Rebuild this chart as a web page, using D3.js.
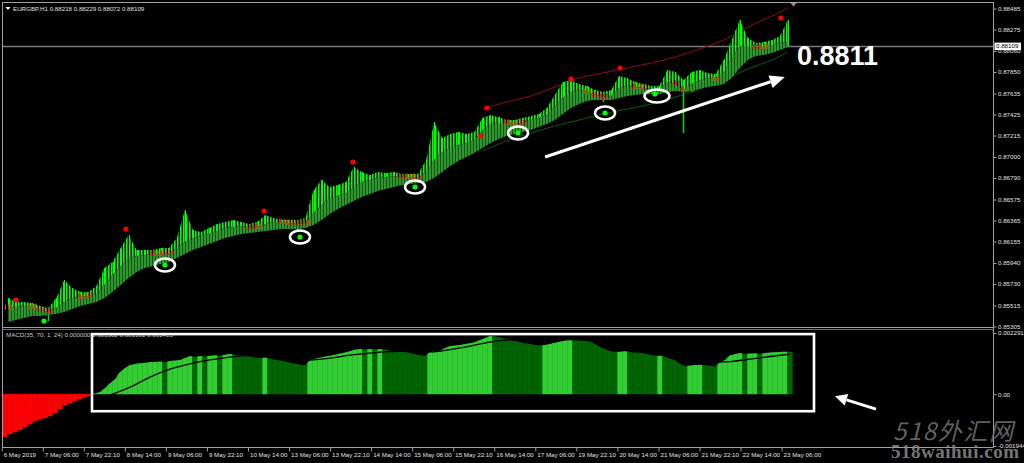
<!DOCTYPE html>
<html><head><meta charset="utf-8">
<script src="https://cdn.jsdelivr.net/npm/d3@7/dist/d3.min.js"></script>
<style>html,body{margin:0;padding:0;background:#000;overflow:hidden}svg{display:block}</style>
</head><body>
<svg id="chart" width="1024" height="463"></svg>
<script>
// ---------------- data ----------------
const symbolTitle = "EURGBP,H1 0.88218 0.88229 0.88072 0.88109";
const macdTitle = "MACD(35, 70, 1, 24) 0.000000 0.001302 0.001302 0.001415";
const priceTicks = [0.88485,0.88275,0.88060,0.87850,0.87635,0.87425,0.87215,0.87000,0.86790,0.86575,0.86365,0.86155,0.85940,0.85730,0.85515,0.85305];
const lastPrice = 0.88109;
const bigLabel = "0.8811";
const timeLabels = ["6 May 2019","7 May 06:00","7 May 22:10","8 May 14:00","9 May 06:00","9 May 22:10","10 May 14:00","13 May 06:00","13 May 22:10","14 May 14:00","15 May 06:00","15 May 22:10","16 May 14:00","17 May 06:00","19 May 22:10","20 May 14:00","21 May 06:00","21 May 22:10","22 May 14:00","23 May 06:00"];

const barHigh = [0.8559,0.8555,0.8555,0.8554,0.8551,0.8549,0.8559,0.8577,0.8569,0.8565,
0.8565,0.8571,0.8589,0.8595,0.8609,0.8622,0.8607,0.8607,0.8607,0.8609,
0.8609,0.8619,0.8647,0.8627,0.8625,0.8629,0.8633,0.8635,0.8637,0.8635,
0.8633,0.8635,0.8642,0.8639,0.8637,0.8637,0.8637,0.8639,0.8667,0.8677,
0.8670,0.8672,0.8675,0.8690,0.8685,0.8682,0.8685,0.8684,0.8685,0.8683,
0.8683,0.8683,0.8697,0.8735,0.8719,0.8723,0.8725,0.8723,0.8725,0.8739,
0.8742,0.8740,0.8737,0.8737,0.8739,0.8741,0.8743,0.8749,0.8762,0.8775,
0.8777,0.8773,0.8771,0.8767,0.8765,0.8767,0.8781,0.8779,0.8775,0.8773,
0.8771,0.8771,0.8787,0.8785,0.8777,0.8785,0.8787,0.8784,0.8783,0.8797,
0.8817,0.8837,0.8819,0.8814,0.8815,0.8817,0.8821,0.8837];
const barLow = [0.8539,0.8545,0.8547,0.8546,0.8541,0.8536,0.8545,0.8551,0.8555,0.8557,
0.8558,0.8560,0.8567,0.8575,0.8587,0.8595,0.8597,0.8599,0.8599,0.8599,
0.8600,0.8605,0.8609,0.8615,0.8617,0.8619,0.8622,0.8625,0.8626,0.8627,
0.8625,0.8626,0.8629,0.8631,0.8631,0.8630,0.8627,0.8630,0.8639,0.8647,
0.8655,0.8657,0.8660,0.8665,0.8671,0.8673,0.8675,0.8676,0.8677,0.8676,
0.8676,0.8675,0.8679,0.8691,0.8701,0.8705,0.8708,0.8710,0.8713,0.8723,
0.8729,0.8730,0.8730,0.8729,0.8730,0.8733,0.8735,0.8738,0.8747,0.8755,
0.8761,0.8763,0.8761,0.8758,0.8755,0.8757,0.8765,0.8767,0.8766,0.8765,
0.8764,0.8763,0.8771,0.8767,0.8724,0.8765,0.8773,0.8775,0.8774,0.8781,
0.8795,0.8807,0.8807,0.8805,0.8806,0.8808,0.8810,0.8811];
const fastMA = [0.8549,0.8550,0.8551,0.8550,0.8547,0.8545,0.8549,0.8555,0.8559,0.8560,
0.8561,0.8563,0.8572,0.8582,0.8591,0.8599,0.8601,0.8602,0.8603,0.8603,
0.8604,0.8609,0.8615,0.8619,0.8621,0.8623,0.8626,0.8629,0.8630,0.8631,
0.8629,0.8630,0.8633,0.8635,0.8635,0.8634,0.8633,0.8634,0.8644,0.8652,
0.8659,0.8661,0.8664,0.8669,0.8675,0.8677,0.8679,0.8680,0.8681,0.8680,
0.8680,0.8679,0.8685,0.8697,0.8705,0.8709,0.8712,0.8714,0.8717,0.8727,
0.8733,0.8734,0.8734,0.8733,0.8734,0.8737,0.8739,0.8742,0.8751,0.8759,
0.8765,0.8767,0.8765,0.8762,0.8760,0.8761,0.8769,0.8771,0.8770,0.8769,
0.8768,0.8767,0.8775,0.8773,0.8767,0.8773,0.8777,0.8779,0.8778,0.8785,
0.8799,0.8811,0.8811,0.8809,0.8810,0.8812,0.8814,0.8815];
const slowMA = [0.8535,0.8537,0.8539,0.8541,0.8541,0.8542,0.8543,0.8545,0.8548,0.8551,
0.8553,0.8555,0.8559,0.8565,0.8572,0.8579,0.8585,0.8589,0.8591,0.8593,
0.8595,0.8599,0.8603,0.8607,0.8610,0.8613,0.8616,0.8619,0.8621,0.8623,
0.8624,0.8625,0.8626,0.8627,0.8628,0.8628,0.8628,0.8629,0.8632,0.8637,
0.8643,0.8648,0.8652,0.8656,0.8660,0.8663,0.8666,0.8668,0.8670,0.8672,
0.8673,0.8674,0.8675,0.8679,0.8685,0.8691,0.8696,0.8700,0.8704,0.8709,
0.8714,0.8718,0.8721,0.8723,0.8725,0.8727,0.8730,0.8733,0.8737,0.8743,
0.8749,0.8753,0.8756,0.8757,0.8757,0.8757,0.8759,0.8761,0.8762,0.8763,
0.8763,0.8763,0.8765,0.8766,0.8765,0.8766,0.8768,0.8770,0.8771,0.8773,
0.8779,0.8789,0.8797,0.8801,0.8802,0.8804,0.8807,0.8810];
const bearishRuns = [[0,0],[3,5],[9,10],[18,20],[30,31],[34,37],[49,51],[62,64],[72,74],[78,79],[83,84],[88,88],[93,94]];

const envBars  = [59,62,65,68,71,74,77,80,83,86,89,92,95,97];
const envUpper = [0.8748,0.8755,0.8761,0.8770,0.8779,0.8784,0.8789,0.8794,0.8800,0.8808,0.8817,0.8830,0.8841,0.8849];
const envLower = [0.8706,0.8716,0.8724,0.8731,0.8737,0.8743,0.8748,0.8753,0.8760,0.8768,0.8777,0.8788,0.8797,0.8805];

const swingHighBar   = [0.99,14.67,31.84,42.9,58.82,59.57,70.02,76.11,96.13];
const swingHighPrice = [0.8557,0.8628,0.8646,0.8695,0.8721,0.8749,0.8778,0.8789,0.8839];
const swingLowBar    = [4.48,19.52,36.31,50.62,63.43,74.25,80.46];
const swingLowPrice  = [0.8536,0.8592,0.8620,0.8670,0.8724,0.8744,0.8763];
const circledLows    = [1,2,3,4,5,6];
const trendArrowBar   = [66.8,96.6];
const trendArrowPrice = [0.8700,0.8780];

const macdHist = [-0.00161,-0.00150,-0.00143,-0.00135,-0.00124,-0.00113,-0.00101,-0.00094,-0.00090,-0.00083,
-0.00071,-0.00056,-0.00041,-0.00034,-0.00026,-0.00019,-0.00011,-0.00006,0.00002,0.00008,
0.00023,0.00041,0.00056,0.00083,0.00098,0.00109,0.00113,0.00116,0.00118,0.00120,
0.00121,0.00122,0.00120,0.00124,0.00126,0.00128,0.00135,0.00143,0.00139,0.00143,
0.00141,0.00144,0.00146,0.00144,0.00148,0.00150,0.00148,0.00146,0.00144,0.00141,
0.00137,0.00135,0.00137,0.00133,0.00129,0.00126,0.00122,0.00118,0.00114,0.00111,
0.00107,0.00128,0.00133,0.00137,0.00141,0.00144,0.00148,0.00152,0.00156,0.00161,
0.00167,0.00169,0.00167,0.00169,0.00168,0.00169,0.00167,0.00163,0.00161,0.00159,
0.00158,0.00154,0.00150,0.00146,0.00143,0.00158,0.00161,0.00163,0.00173,0.00180,
0.00182,0.00184,0.00188,0.00191,0.00195,0.00203,0.00210,0.00218,0.00216,0.00212,
0.00208,0.00203,0.00199,0.00195,0.00191,0.00188,0.00184,0.00182,0.00184,0.00188,
0.00193,0.00199,0.00203,0.00208,0.00206,0.00204,0.00202,0.00197,0.00188,0.00176,
0.00169,0.00161,0.00158,0.00159,0.00161,0.00158,0.00156,0.00154,0.00152,0.00148,
0.00143,0.00144,0.00141,0.00133,0.00126,0.00114,0.00105,0.00107,0.00109,0.00110,
0.00108,0.00107,0.00103,0.00120,0.00128,0.00146,0.00150,0.00154,0.00150,0.00152,
0.00153,0.00151,0.00154,0.00156,0.00157,0.00158,0.00159,0.00158];
const signalStart = 21, signalStep = 4;
const macdSignal = [-0.00004,0.00026,0.00064,0.00094,0.00113,0.00128,0.00139,0.00144,0.00139,0.00131,
0.00128,0.00135,0.00146,0.00154,0.00159,0.00161,0.00158,0.00167,0.00180,0.00195,
0.00203,0.00199,0.00195,0.00204,0.00201,0.00191,0.00176,0.00161,0.00146,0.00131,
0.00120,0.00122,0.00131,0.00141,0.00150];
const macdTicks = [0.002291, 0, -0.001944];
const macdTickLabels = ["0.002291","0.00","-0.001944"];
const macdBoxBars = [17.4,161.8], macdBoxValues = [0.00225,-0.00064];
const macdArrowBar = [174.2,166], macdArrowValue = [-0.00056,-0.00008];
const watermarkCN = "518外汇网", watermarkEN = "518waihui.com";

// ---------------- layout ----------------
const svg = d3.select("#chart");
const FRAME = "#a0a0a0", TXT = "#e0e0e0", FONT = "Liberation Sans, Arial, sans-serif";
const axisX = 993.5;
const main = {top:2.5, bottom:327.5}, sub = {top:329.5, bottom:447.5};

svg.append("rect").attr("width",1024).attr("height",463).attr("fill","#000");
const defs = svg.append("defs");
const pc = defs.append("pattern").attr("id","candlePat").attr("patternUnits","userSpaceOnUse").attr("width",3).attr("height",8);
pc.append("rect").attr("x",0).attr("width",1).attr("height",8).attr("fill","#00ff00");
pc.append("rect").attr("x",1).attr("width",1).attr("height",8).attr("fill","#009a00");
const pb = defs.append("pattern").attr("id","bandPat").attr("patternUnits","userSpaceOnUse").attr("width",3).attr("height",8);
pb.append("rect").attr("x",0).attr("width",2).attr("height",8).attr("fill","#2e962e");
pb.append("rect").attr("x",2).attr("width",1).attr("height",8).attr("fill","#155515");
defs.append("clipPath").attr("id","clipMain").append("rect").attr("x",3).attr("y",3).attr("width",990).attr("height",324);
defs.append("clipPath").attr("id","clipSub").append("rect").attr("x",3).attr("y",330).attr("width",990).attr("height",117);

// scales
const N = barHigh.length;
const xP = d3.scaleLinear().domain([0, N-1]).range([8, 788]);
const yP = d3.scaleLinear().domain([0.85305, 0.88485]).range([326.5, 8.5]);
const M = macdHist.length;
const xM = d3.scaleLinear().domain([0, M-1]).range([5, 790]);
const yM = d3.scaleLinear().domain([-0.001944, 0.002291]).range([446, 333]);
const xT = d3.scalePoint().domain(timeLabels).range([1.7, 781.6]);

// ---------------- main panel ----------------
const gm = svg.append("g").attr("clip-path","url(#clipMain)");
const bidY = Math.round(yP(lastPrice))+0.5;
gm.append("line").attr("x1",3).attr("x2",axisX).attr("y1",bidY).attr("y2",bidY).attr("stroke","#7a7a7a").attr("stroke-width",1.3);

// envelopes
const envLine = vals => d3.line().x((d,i)=>xP(envBars[i])).y(d=>yP(d)).curve(d3.curveCatmullRom)(vals);
gm.append("path").attr("d",envLine(envUpper)).attr("fill","none").attr("stroke","#8b1010").attr("stroke-width",1);
gm.append("path").attr("d",envLine(envLower)).attr("fill","none").attr("stroke","#0d5a0d").attr("stroke-width",1);

// candles: dense bars between the fast MA and the highs, plus each bar's full high-low wick
const idx = d3.range(N);
gm.append("path").attr("d", d3.area().x(i=>xP(i)).y0(i=>yP(fastMA[i])).y1(i=>yP(barHigh[i]))(idx)).attr("fill","url(#candlePat)");
gm.selectAll("line.wick").data(idx).join("line").attr("class","wick")
  .attr("x1",i=>Math.round(xP(i))+0.5).attr("x2",i=>Math.round(xP(i))+0.5)
  .attr("y1",i=>yP(barHigh[i])).attr("y2",i=>yP(barLow[i])).attr("stroke","#00ff00").attr("stroke-width",1);

// MA band
gm.append("path").attr("d", d3.area().x(i=>xP(i)).y0(i=>yP(slowMA[i])).y1(i=>yP(fastMA[i]))(idx)).attr("fill","url(#bandPat)");
// low wicks that poke below the band
gm.selectAll("line.lw").data(idx.filter(i=>barLow[i]<slowMA[i])).join("line").attr("class","lw")
  .attr("x1",i=>Math.round(xP(i))+0.5).attr("x2",i=>Math.round(xP(i))+0.5)
  .attr("y1",i=>yP(slowMA[i])).attr("y2",i=>yP(barLow[i])).attr("stroke","#00dd00").attr("stroke-width",1.5);

// bearish marks
bearishRuns.forEach(([a,b])=>{
  for(let i=a;i<=b;i++){
    [-2.7,0,2.7].forEach(dx=>{
      const x=Math.round(xP(i)+dx)+0.5, y=yP(fastMA[i]);
      gm.append("line").attr("x1",x).attr("x2",x).attr("y1",y-3.5).attr("y2",y+2).attr("stroke","#ff1a1a").attr("stroke-width",1);
    });
  }
});

// swing dots
gm.selectAll("circle.sh").data(swingHighBar).join("circle").attr("class","sh")
  .attr("cx",(d)=>xP(d)).attr("cy",(d,i)=>yP(swingHighPrice[i])).attr("r",2.6).attr("fill","#ff0000");
gm.selectAll("circle.sl").data(swingLowBar).join("circle").attr("class","sl")
  .attr("cx",(d)=>xP(d)).attr("cy",(d,i)=>yP(swingLowPrice[i])).attr("r",2.6).attr("fill","#00ff00");

// annotations
gm.selectAll("ellipse.an").data(circledLows).join("ellipse").attr("class","an")
  .attr("cx",j=>xP(swingLowBar[j])+ (j===6?2:0)).attr("cy",j=>yP(swingLowPrice[j])+(j===6?2:0))
  .attr("rx",j=>j===6?12.5:10).attr("ry",6.5).attr("fill","none").attr("stroke","#fff").attr("stroke-width",2.5);

function arrow(g,x1,y1,x2,y2,len,hw,w){
  const a=Math.atan2(y2-y1,x2-x1);
  const bx=x2-len*Math.cos(a), by=y2-len*Math.sin(a);
  g.append("line").attr("x1",x1).attr("y1",y1).attr("x2",bx).attr("y2",by).attr("stroke","#fff").attr("stroke-width",w);
  const px=-Math.sin(a)*hw, py=Math.cos(a)*hw;
  g.append("path").attr("d",`M${x2},${y2}L${bx+px},${by+py}L${bx-px},${by-py}Z`).attr("fill","#fff");
}
arrow(gm, xP(trendArrowBar[0]), yP(trendArrowPrice[0]), xP(trendArrowBar[1]), yP(trendArrowPrice[1]), 15, 6.5, 3);

gm.append("text").attr("x",xP(N-1)+9).attr("y",yP(0.8811)+19).text(bigLabel)
  .attr("fill","#fff").attr("font-family",FONT).attr("font-weight","bold").attr("font-size",27);

// shift marker
svg.append("path").attr("d",`M${xP(N-1)+2},2.5L${xP(N-1)+9},2.5L${xP(N-1)+5.5},6.5Z`).attr("fill","#909090");

// title
svg.append("path").attr("d","M5.5,7L10.5,7L8,10Z").attr("fill","#fff");
svg.append("text").attr("x",13).attr("y",10.5).text(symbolTitle).attr("fill",TXT).attr("font-family",FONT).attr("font-size",6.2);

// ---------------- MACD panel ----------------
const gs = svg.append("g").attr("clip-path","url(#clipSub)");
const step = xM(1)-xM(0);
let prevColor = "#32cd32";
const colors = macdHist.map((v,k)=>{
  if(v<0) return "#ff0000";
  let c = prevColor;
  if(k>0 && v>macdHist[k-1]) c="#32cd32"; else if(k>0 && v<macdHist[k-1]) c="#006400";
  prevColor=c; return c;
});
// negative bars: steps; positive bars: tops joined between neighbours
gs.selectAll("path.h").data(macdHist).join("path").attr("class","h")
  .attr("d",(v,k)=>{
    const x0=xM(k)-step/2-0.2, x1=xM(k)+step/2+0.2, z=yM(0);
    if(v<0) return `M${x0},${z}L${x0},${yM(v)}L${x1},${yM(v)}L${x1},${z}Z`;
    const vl = (k>0 && macdHist[k-1]>=0) ? (macdHist[k-1]+v)/2 : v;
    const vr = (k<M-1) ? (macdHist[k+1]+v)/2 : v;
    return `M${x0},${z}L${x0},${yM(vl)}L${xM(k)},${yM(v)}L${x1},${yM(vr)}L${x1},${z}Z`;
  })
  .attr("fill",(d,k)=>colors[k]);
const lastNeg = macdHist.findIndex(v=>v>=0)-1;
gs.append("line").attr("x1",xM(0)-step/2).attr("x2",xM(lastNeg)+step/2).attr("y1",yM(0)).attr("y2",yM(0))
  .attr("stroke","#ff0000").attr("stroke-width",1).attr("stroke-dasharray","2,2");
gs.append("path").attr("d", d3.line().x((d,j)=>xM(signalStart+j*signalStep)).y(d=>yM(d)).curve(d3.curveMonotoneX)(macdSignal))
  .attr("fill","none").attr("stroke","#000").attr("stroke-width",1.3);
svg.append("text").attr("x",6).attr("y",337).text(macdTitle).attr("fill","#c8c8c8").attr("font-family",FONT).attr("font-size",6.2);

// annotation box & arrow
svg.append("rect").attr("x",xM(macdBoxBars[0])).attr("y",yM(macdBoxValues[0]))
  .attr("width",xM(macdBoxBars[1])-xM(macdBoxBars[0])).attr("height",yM(macdBoxValues[1])-yM(macdBoxValues[0]))
  .attr("fill","none").attr("stroke","#fff").attr("stroke-width",2.6);
arrow(svg, xM(macdArrowBar[0]), yM(macdArrowValue[0]), xM(macdArrowBar[1]), yM(macdArrowValue[1]), 12, 6, 3);

// ---------------- frames ----------------
const fr = svg.append("g").attr("stroke",FRAME).attr("fill","none");
fr.append("line").attr("x1",2).attr("x2",axisX).attr("y1",main.top).attr("y2",main.top);
fr.append("line").attr("x1",2.5).attr("x2",2.5).attr("y1",2).attr("y2",sub.bottom);
fr.append("line").attr("x1",axisX).attr("x2",axisX).attr("y1",2).attr("y2",sub.bottom);
fr.append("line").attr("x1",2).attr("x2",axisX).attr("y1",main.bottom).attr("y2",main.bottom);
fr.append("line").attr("x1",2).attr("x2",axisX).attr("y1",sub.top).attr("y2",sub.top).attr("stroke","#707070");
fr.append("line").attr("x1",2).attr("x2",axisX).attr("y1",sub.bottom).attr("y2",sub.bottom);

// ---------------- axes ----------------
function styleAxis(g){
  g.select(".domain").remove();
  g.selectAll(".tick line").attr("stroke",FRAME);
  g.selectAll(".tick text").attr("fill",TXT).attr("font-family",FONT).attr("font-size",6.2);
}
svg.append("g").attr("transform",`translate(${axisX},0)`)
  .call(d3.axisRight(yP).tickValues(priceTicks).tickFormat(d3.format(".5f")).tickSize(3).tickPadding(1.5))
  .call(styleAxis);
const ly = yP(lastPrice);
svg.append("rect").attr("x",994.5).attr("y",ly-3.5).attr("width",26.5).attr("height",7.5).attr("fill","#fff");
svg.append("text").attr("x",996).attr("y",ly+2.3).text(d3.format(".5f")(lastPrice)).attr("fill","#000").attr("font-family",FONT).attr("font-size",6.2);

svg.append("g").attr("transform",`translate(${axisX},0)`)
  .call(d3.axisRight(yM).tickValues(macdTicks).tickFormat((d,i)=>macdTickLabels[i]).tickSize(3).tickPadding(1.5))
  .call(styleAxis);

const gt = svg.append("g").attr("transform",`translate(0,${sub.bottom})`)
  .call(d3.axisBottom(xT).tickSize(4).tickPadding(2)).call(styleAxis);
gt.selectAll(".tick text").attr("text-anchor","start").attr("dx",1.5).attr("dy","0.55em");

// ---------------- watermark ----------------
svg.append("text").attr("x",893).attr("y",440).text(watermarkCN).attr("fill","#6e6e6e").attr("fill-opacity",0.9)
  .attr("font-family","Noto Sans CJK SC, sans-serif").attr("font-style","italic").attr("font-size",24).attr("textLength",120);
svg.append("text").attr("x",891).attr("y",458).text(watermarkEN).attr("fill","#8c8c8c").attr("fill-opacity",0.85)
  .attr("font-family","Liberation Serif, serif").attr("font-weight","bold").attr("font-size",19).attr("textLength",128);
</script>
</body></html>
